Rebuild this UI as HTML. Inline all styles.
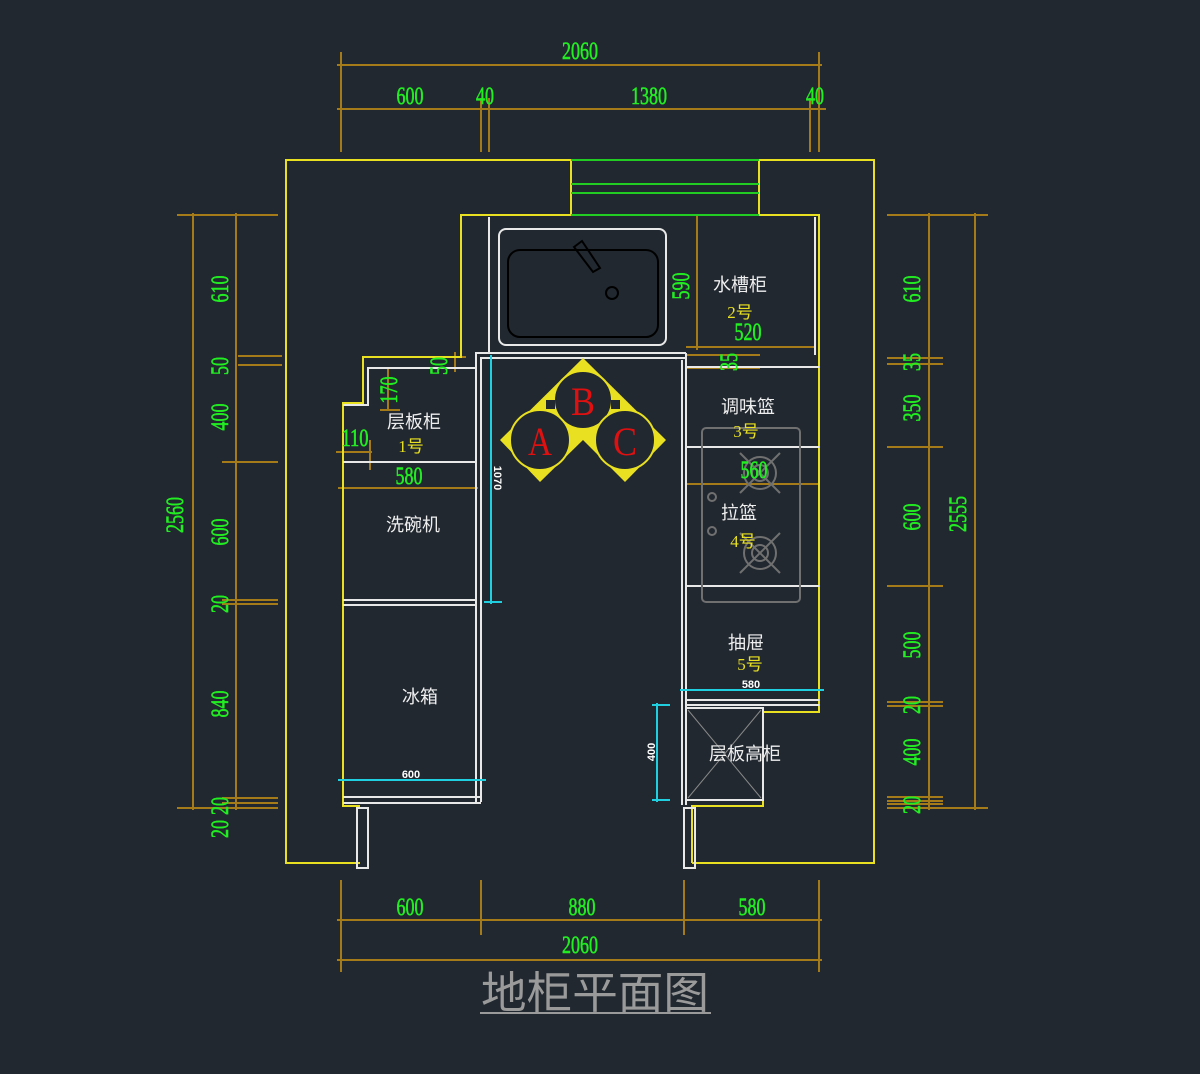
<!DOCTYPE html>
<html><head><meta charset="utf-8"><style>
html,body{margin:0;padding:0;background:#212830;}
svg{display:block}
.g{fill:#22ee22;stroke:#22ee22;stroke-width:0.6;font-family:"Liberation Serif",serif;font-size:25px;}
.w{fill:#eeeeee;font-family:"Liberation Sans","Noto Sans CJK SC",sans-serif;font-size:18px;}
.y{fill:#e8e020;font-family:"Liberation Serif","Noto Sans CJK SC",serif;font-size:17px;}
</style></head><body>
<svg width="1200" height="1074" viewBox="0 0 1200 1074" xmlns="http://www.w3.org/2000/svg">
<rect width="1200" height="1074" fill="#212830"/>
<g stroke="#a57a18" stroke-width="2" fill="none">
<line x1="341" y1="52" x2="341" y2="152"/><line x1="481" y1="98" x2="481" y2="152"/><line x1="489" y1="98" x2="489" y2="152"/><line x1="810" y1="98" x2="810" y2="152"/><line x1="819" y1="52" x2="819" y2="152"/>
<line x1="337" y1="65" x2="822" y2="65"/><line x1="337" y1="109" x2="826" y2="109"/>
<line x1="193" y1="213" x2="193" y2="810"/><line x1="236" y1="213" x2="236" y2="810"/>
<line x1="177" y1="215" x2="278" y2="215"/><line x1="177" y1="808" x2="278" y2="808"/>
<line x1="238" y1="356" x2="282" y2="356"/><line x1="238" y1="365" x2="282" y2="365"/><line x1="222" y1="462" x2="278" y2="462"/>
<line x1="222" y1="600" x2="278" y2="600"/><line x1="222" y1="604" x2="278" y2="604"/>
<line x1="222" y1="798" x2="278" y2="798"/><line x1="222" y1="803" x2="278" y2="803"/>
<line x1="929" y1="213" x2="929" y2="810"/><line x1="975" y1="213" x2="975" y2="810"/>
<line x1="887" y1="215" x2="988" y2="215"/><line x1="887" y1="808" x2="988" y2="808"/>
<line x1="887" y1="358" x2="943" y2="358"/><line x1="887" y1="364" x2="943" y2="364"/><line x1="887" y1="447" x2="943" y2="447"/>
<line x1="887" y1="586" x2="943" y2="586"/><line x1="887" y1="702" x2="943" y2="702"/><line x1="887" y1="706" x2="943" y2="706"/>
<line x1="887" y1="797" x2="943" y2="797"/><line x1="887" y1="801" x2="943" y2="801"/><line x1="887" y1="804" x2="943" y2="804"/>
<line x1="341" y1="880" x2="341" y2="972"/><line x1="481" y1="880" x2="481" y2="935"/><line x1="684" y1="880" x2="684" y2="935"/><line x1="819" y1="880" x2="819" y2="972"/>
<line x1="337" y1="920" x2="822" y2="920"/><line x1="337" y1="960" x2="822" y2="960"/>
<line x1="697" y1="215" x2="697" y2="350"/><line x1="686" y1="347" x2="815" y2="347"/>
<line x1="686" y1="355" x2="760" y2="355"/><line x1="686" y1="368" x2="760" y2="368"/>
<line x1="438" y1="357" x2="466" y2="357"/><line x1="430" y1="368" x2="470" y2="368"/><line x1="455" y1="352" x2="455" y2="372"/>
<line x1="388" y1="368" x2="388" y2="410"/><line x1="380" y1="410" x2="400" y2="410"/>
<line x1="336" y1="452" x2="372" y2="452"/><line x1="370" y1="440" x2="370" y2="470"/>
<line x1="338" y1="488" x2="478" y2="488"/><line x1="686" y1="484" x2="819" y2="484"/>
</g>
<g stroke="#e8e020" stroke-width="2" fill="none">
<polyline points="360,863 286,863 286,160 571,160"/>
<polyline points="759,160 874,160 874,863 692,863"/>
<polyline points="571,160 571,215 461,215 461,357 363,357 363,403 343,403 343,806 360,806"/>
<polyline points="759,160 759,215 819,215 819,712 763,712 763,806 692,806 692,863"/>
</g>
<g stroke="#22cc22" stroke-width="2"><line x1="571" y1="160" x2="759" y2="160"/><line x1="571" y1="184" x2="759" y2="184"/><line x1="571" y1="193" x2="759" y2="193"/><line x1="571" y1="215" x2="759" y2="215"/></g>
<g stroke="#e8e8e8" stroke-width="2" fill="none">
<line x1="489" y1="217" x2="489" y2="353"/><line x1="815" y1="217" x2="815" y2="355"/>
<rect x="499" y="229" width="167" height="116" rx="7"/>
<polyline points="476,802 476,353 686,353"/><polyline points="481,802 481,358 686,358"/>
<line x1="686" y1="353" x2="686" y2="805"/><line x1="682" y1="360" x2="682" y2="805"/>
<line x1="686" y1="367" x2="819" y2="367"/>
<polyline points="476,368 368,368 368,405 343,405"/>
<line x1="343" y1="462" x2="476" y2="462"/>
<line x1="343" y1="600" x2="476" y2="600"/><line x1="343" y1="605" x2="476" y2="605"/>
<line x1="343" y1="797" x2="481" y2="797"/><line x1="343" y1="803" x2="481" y2="803"/>
<line x1="686" y1="447" x2="819" y2="447"/><line x1="686" y1="586" x2="819" y2="586"/>
<line x1="686" y1="700" x2="819" y2="700"/><line x1="686" y1="705" x2="819" y2="705"/>
<rect x="686" y="708" width="77" height="92"/><line x1="686" y1="800" x2="763" y2="800"/>
<rect x="357" y="808" width="11" height="60"/><rect x="684" y="808" width="11" height="60"/>
</g>
<g stroke="#888" stroke-width="1"><line x1="688" y1="710" x2="761" y2="798"/><line x1="761" y1="710" x2="688" y2="798"/></g>
<rect x="508" y="250" width="150" height="87" rx="12" fill="none" stroke="#000" stroke-width="2"/>
<path d="M574,247 L582,241 L600,268 L593,272 Z" fill="none" stroke="#000" stroke-width="2"/>
<circle cx="612" cy="293" r="6" fill="none" stroke="#000" stroke-width="2"/>
<g stroke="#707070" stroke-width="2" fill="none">
<rect x="702" y="428" width="98" height="174" rx="4"/>
<circle cx="760" cy="473" r="16"/><circle cx="760" cy="473" r="8"/><line x1="740" y1="453" x2="780" y2="493"/><line x1="780" y1="453" x2="740" y2="493"/>
<circle cx="760" cy="553" r="16"/><circle cx="760" cy="553" r="8"/><line x1="740" y1="533" x2="780" y2="573"/><line x1="780" y1="533" x2="740" y2="573"/>
<circle cx="712" cy="497" r="4"/><circle cx="712" cy="531" r="4"/>
</g>
<polygon points="583,358 666,440 625,482 583,440 540,482 500,440" fill="#e8e020"/>
<g fill="#212830" stroke="#e8e020" stroke-width="2">
<circle cx="583" cy="400" r="29"/><circle cx="540" cy="440" r="30"/><circle cx="625" cy="440" r="30"/>
</g>
<rect x="546" y="400" width="9" height="9" fill="#212830"/><rect x="611" y="400" width="9" height="9" fill="#212830"/>
<g fill="#e01010" font-family="Liberation Serif,serif" font-size="40"><text x="583" y="415" text-anchor="middle" textLength="24" lengthAdjust="spacingAndGlyphs">B</text><text x="540" y="455" text-anchor="middle" textLength="24" lengthAdjust="spacingAndGlyphs">A</text><text x="625" y="455" text-anchor="middle" textLength="24" lengthAdjust="spacingAndGlyphs">C</text></g>
<g stroke="#20d0e0" stroke-width="2">
<line x1="491" y1="355" x2="491" y2="604"/><line x1="484" y1="602" x2="502" y2="602"/>
<line x1="680" y1="690" x2="824" y2="690"/>
<line x1="338" y1="780" x2="486" y2="780"/>
<line x1="657" y1="703" x2="657" y2="802"/><line x1="652" y1="705" x2="670" y2="705"/><line x1="652" y1="800" x2="670" y2="800"/>
</g>
<g class="g" text-anchor="middle" lengthAdjust="spacingAndGlyphs">
<text x="580" y="59" textLength="36" lengthAdjust="spacingAndGlyphs">2060</text>
<text x="410" y="104" textLength="27" lengthAdjust="spacingAndGlyphs">600</text>
<text x="485" y="104" textLength="18" lengthAdjust="spacingAndGlyphs">40</text>
<text x="649" y="104" textLength="36" lengthAdjust="spacingAndGlyphs">1380</text>
<text x="815" y="104" textLength="18" lengthAdjust="spacingAndGlyphs">40</text>
<text x="410" y="915" textLength="27" lengthAdjust="spacingAndGlyphs">600</text>
<text x="582" y="915" textLength="27" lengthAdjust="spacingAndGlyphs">880</text>
<text x="752" y="915" textLength="27" lengthAdjust="spacingAndGlyphs">580</text>
<text x="580" y="953" textLength="36" lengthAdjust="spacingAndGlyphs">2060</text>
<text x="409" y="484" textLength="27" lengthAdjust="spacingAndGlyphs">580</text>
<text x="754" y="478" textLength="27" lengthAdjust="spacingAndGlyphs">560</text>
<text x="748" y="340" textLength="27" lengthAdjust="spacingAndGlyphs">520</text>
<text x="355" y="446" textLength="27" lengthAdjust="spacingAndGlyphs">110</text>
</g>
<g class="g" text-anchor="middle">
<text transform="translate(183,515) rotate(-90)" textLength="36" lengthAdjust="spacingAndGlyphs">2560</text>
<text transform="translate(228,289) rotate(-90)" textLength="27" lengthAdjust="spacingAndGlyphs">610</text>
<text transform="translate(228,366) rotate(-90)" textLength="18" lengthAdjust="spacingAndGlyphs">50</text>
<text transform="translate(228,417) rotate(-90)" textLength="27" lengthAdjust="spacingAndGlyphs">400</text>
<text transform="translate(228,532) rotate(-90)" textLength="27" lengthAdjust="spacingAndGlyphs">600</text>
<text transform="translate(228,604) rotate(-90)" textLength="18" lengthAdjust="spacingAndGlyphs">20</text>
<text transform="translate(228,704) rotate(-90)" textLength="27" lengthAdjust="spacingAndGlyphs">840</text>
<text transform="translate(228,806) rotate(-90)" textLength="18" lengthAdjust="spacingAndGlyphs">20</text>
<text transform="translate(228,829) rotate(-90)" textLength="18" lengthAdjust="spacingAndGlyphs">20</text>
<text transform="translate(920,289) rotate(-90)" textLength="27" lengthAdjust="spacingAndGlyphs">610</text>
<text transform="translate(920,362) rotate(-90)" textLength="18" lengthAdjust="spacingAndGlyphs">35</text>
<text transform="translate(920,408) rotate(-90)" textLength="27" lengthAdjust="spacingAndGlyphs">350</text>
<text transform="translate(920,517) rotate(-90)" textLength="27" lengthAdjust="spacingAndGlyphs">600</text>
<text transform="translate(920,645) rotate(-90)" textLength="27" lengthAdjust="spacingAndGlyphs">500</text>
<text transform="translate(920,705) rotate(-90)" textLength="18" lengthAdjust="spacingAndGlyphs">20</text>
<text transform="translate(920,752) rotate(-90)" textLength="27" lengthAdjust="spacingAndGlyphs">400</text>
<text transform="translate(920,805) rotate(-90)" textLength="18" lengthAdjust="spacingAndGlyphs">20</text>
<text transform="translate(966,514) rotate(-90)" textLength="36" lengthAdjust="spacingAndGlyphs">2555</text>
<text transform="translate(689,286) rotate(-90)" textLength="27" lengthAdjust="spacingAndGlyphs">590</text>
<text transform="translate(397,390) rotate(-90)" textLength="27" lengthAdjust="spacingAndGlyphs">170</text>
<text transform="translate(737,362) rotate(-90)" textLength="18" lengthAdjust="spacingAndGlyphs">35</text>
<text transform="translate(447,366) rotate(-90)" textLength="18" lengthAdjust="spacingAndGlyphs">50</text>
</g>
<g fill="#fff" font-family="Liberation Sans,sans-serif" font-size="11" font-weight="bold" text-anchor="middle">
<text transform="translate(494,478) rotate(90)">1070</text>
<text x="751" y="688">580</text><text x="411" y="778">600</text>
<text transform="translate(655,752) rotate(-90)">400</text>
</g>
<g class="w" text-anchor="middle">
<text x="740" y="291">水槽柜</text><text x="414" y="428">层板柜</text><text x="413" y="531">洗碗机</text><text x="420" y="703">冰箱</text>
<text x="748" y="413">调味篮</text><text x="739" y="519">拉篮</text><text x="746" y="649">抽屉</text><text x="745" y="760">层板高柜</text>
</g>
<g class="y" text-anchor="middle">
<text x="740" y="318">2号</text><text x="411" y="452">1号</text><text x="746" y="437">3号</text><text x="743" y="547">4号</text><text x="750" y="670">5号</text>
</g>
<text x="595" y="1008" text-anchor="middle" fill="#9a9a9a" font-family="Liberation Sans,Noto Sans CJK SC,sans-serif" font-size="44" textLength="228" lengthAdjust="spacingAndGlyphs">地柜平面图</text>
<line x1="480" y1="1013" x2="711" y2="1013" stroke="#9a9a9a" stroke-width="2"/>
</svg>
</body></html>
